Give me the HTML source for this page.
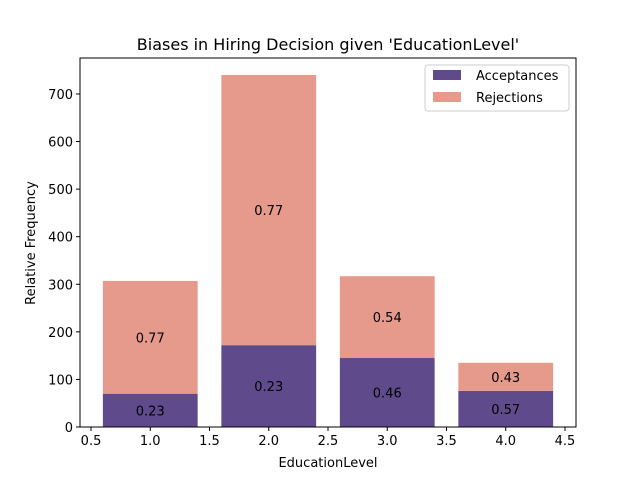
<!DOCTYPE html>
<html><head><meta charset="utf-8"><style>
body{margin:0;background:#fff;}
svg{display:block;font-family:"DejaVu Sans","Liberation Sans",sans-serif;}
</style></head><body>
<svg id="chart" width="640" height="480" xmlns="http://www.w3.org/2000/svg">
<rect width="640" height="480" fill="#fff"/>
<text x="328" y="50" font-size="16" text-anchor="middle">Biases in Hiring Decision given 'EducationLevel'</text>
<g id="plot"></g>
<text x="328" y="467" font-size="13" text-anchor="middle">EducationLevel</text>
<text x="35" y="243" font-size="13" text-anchor="middle" transform="rotate(-90 35 243)">Relative Frequency</text>
<g>
<rect x="425" y="65" width="144" height="46" fill="#fff" stroke="#ccc" rx="3"/>
<rect x="433" y="70" width="28" height="10" fill="#5f4b8b"/>
<text x="476" y="80" font-size="13">Acceptances</text>
<rect x="433" y="92" width="28" height="10" fill="#e59a8c"/>
<text x="476" y="102" font-size="13">Rejections</text>
</g>
</svg>
<script>
const categories=[1,2,3,4];
const acceptances=[70,172,145,76];
const rejections=[237,568,172,59];
const accLabels=["0.23","0.23","0.46","0.57"];
const rejLabels=["0.77","0.77","0.54","0.43"];
const xTicks=[0.5,1.0,1.5,2.0,2.5,3.0,3.5,4.0,4.5];
const yTicks=[0,100,200,300,400,500,600,700];
const L=80,R=576,T=58,B=427;
const xMin=0.407,xMax=4.593,yMax=775.6;
const X=v=>L+(v-xMin)/(xMax-xMin)*(R-L);
const Y=v=>B-v/yMax*(B-T);
const NS="http://www.w3.org/2000/svg";
const g=document.getElementById('plot');
function mk(t,a){const e=document.createElementNS(NS,t);for(const k in a)e.setAttribute(k,a[k]);g.appendChild(e);return e;}
const w=X(0.8)-X(0);
categories.forEach((c,i)=>{
 const a=acceptances[i],r=rejections[i];
 let e=mk('rect',{x:X(c-0.4),y:Y(a),width:w,height:Y(0)-Y(a),fill:'#5f4b8b'});
 
 
 e=mk('rect',{x:X(c-0.4),y:Y(a+r),width:w,height:Y(a)-Y(a+r),fill:'#e59a8c'});
 
 
 e=mk('text',{x:X(c),y:Y(a/2)+5,'font-size':13,'text-anchor':'middle'});e.textContent=accLabels[i];
 
 
 e=mk('text',{x:X(c),y:Y(a+r/2)+5,'font-size':13,'text-anchor':'middle'});e.textContent=rejLabels[i];
 
 
});
let ax=mk('rect',{x:L,y:T,width:R-L,height:B-T,fill:'none',stroke:'#000','stroke-width':1});


xTicks.forEach(v=>{
 mk('line',{x1:X(v),x2:X(v),y1:B,y2:B+4,stroke:'#000'});
 const t=mk('text',{x:X(v),y:B+18,'font-size':13,'text-anchor':'middle'});t.textContent=v.toFixed(1);
 
 
});
yTicks.forEach(v=>{
 mk('line',{x1:L-4,x2:L,y1:Y(v),y2:Y(v),stroke:'#000'});
 const t=mk('text',{x:L-7,y:Y(v)+5,'font-size':13,'text-anchor':'end'});t.textContent=v;
 
 
});
</script>
</body></html>
